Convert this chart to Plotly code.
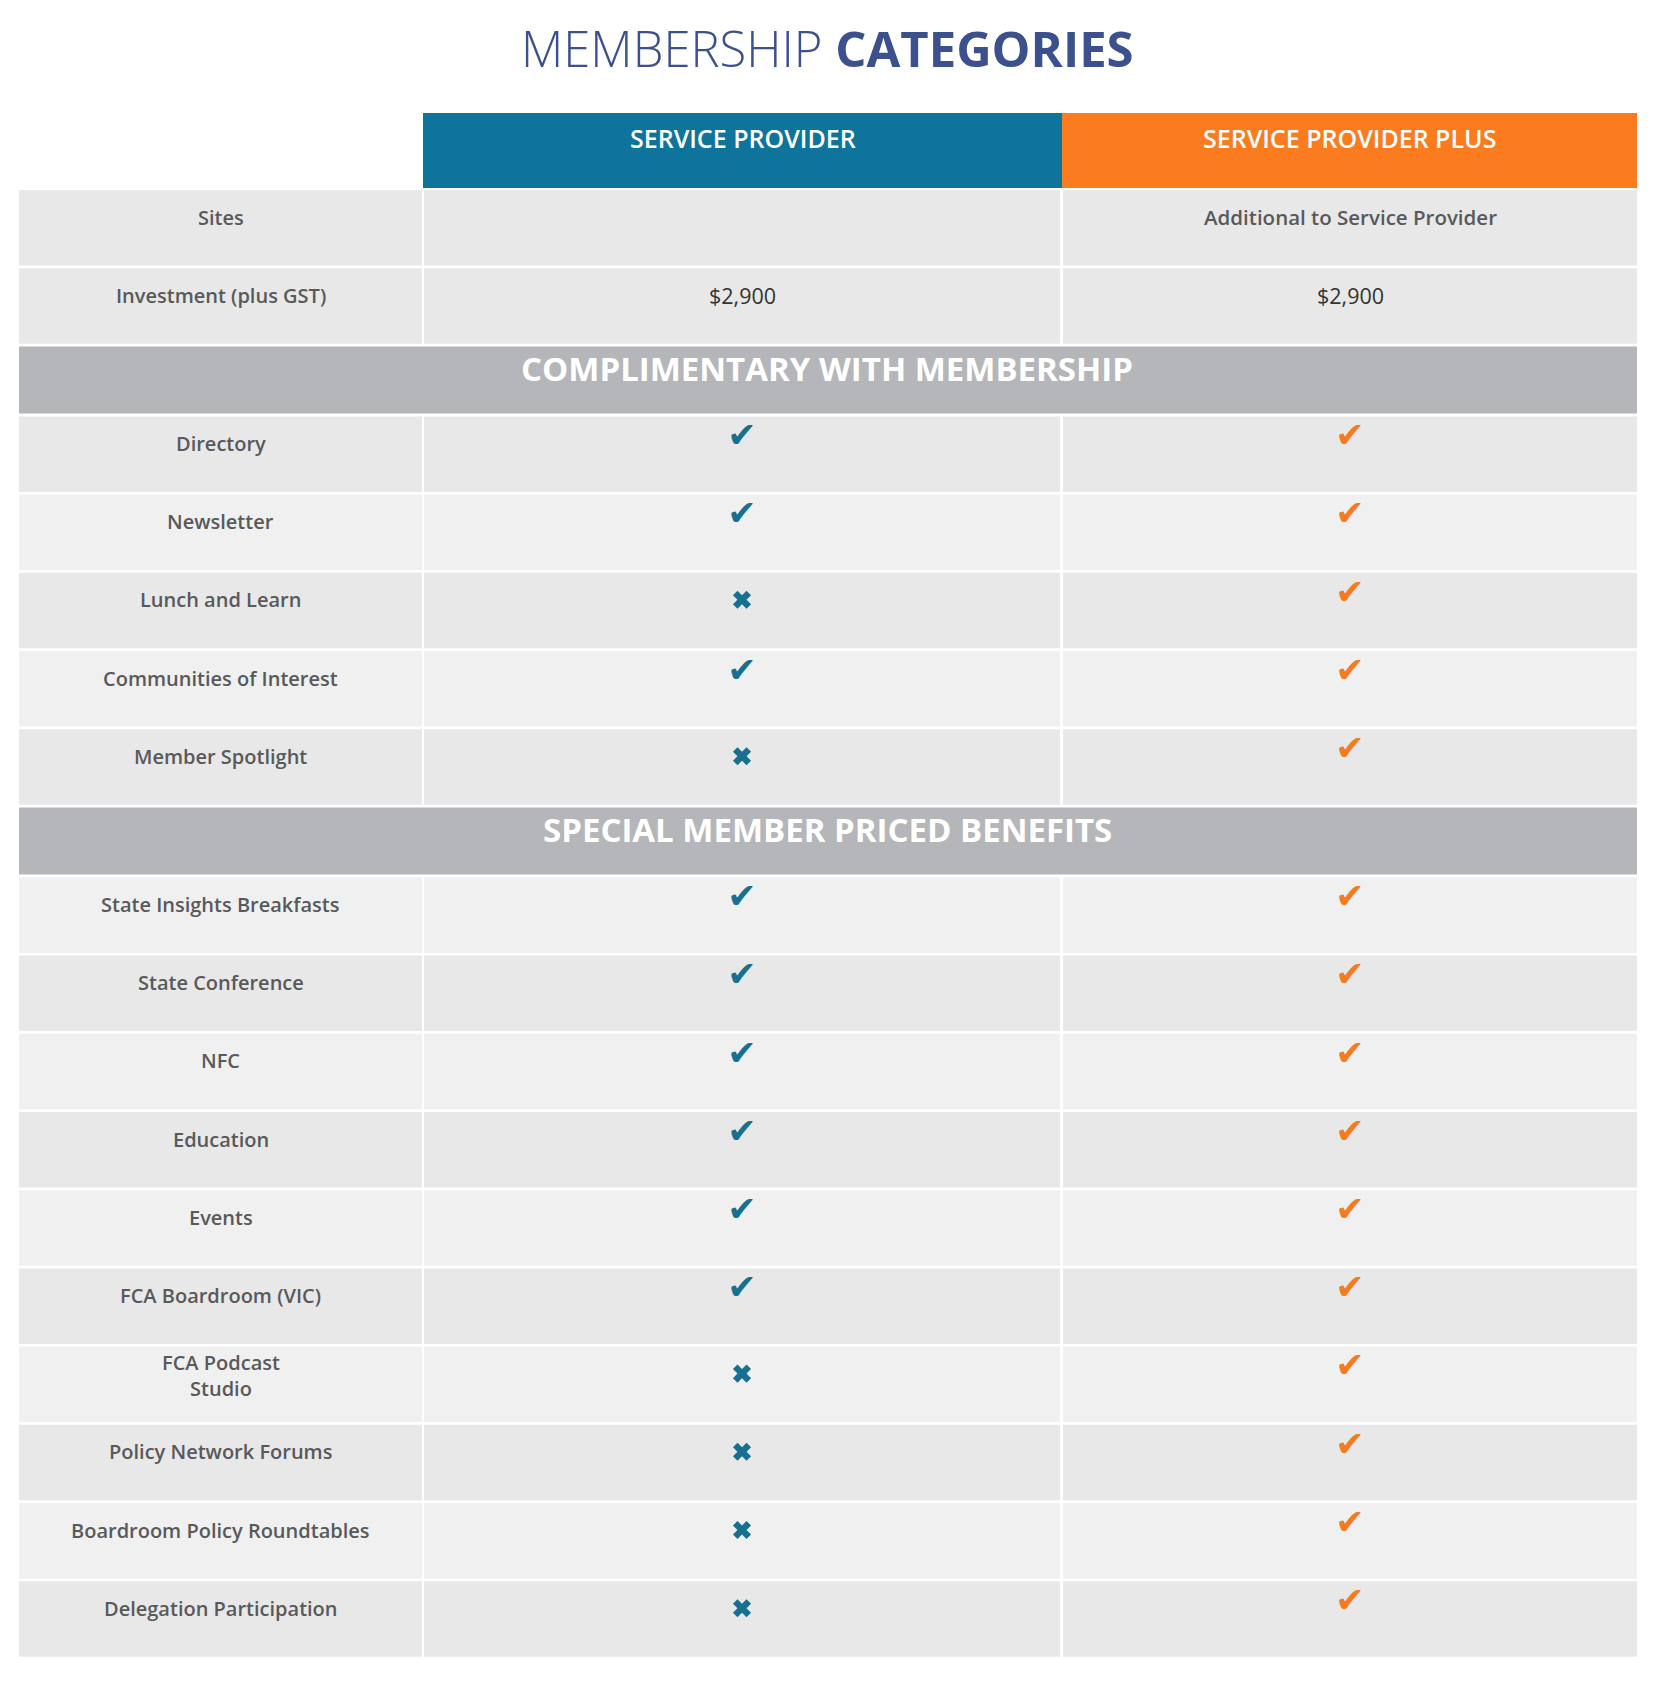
import plotly.graph_objects as go

# table content
plans = ["SERVICE PROVIDER", "SERVICE PROVIDER PLUS"]

info_rows = ["Sites", "Investment (plus GST)"]
info_sp = ["", "$2,900"]
info_spp = ["Additional to Service Provider", "$2,900"]

comp_title = "COMPLIMENTARY WITH MEMBERSHIP"
comp_rows = ["Directory", "Newsletter", "Lunch and Learn", "Communities of Interest", "Member Spotlight"]
comp_sp = [1, 1, 0, 1, 0]
comp_spp = [1, 1, 1, 1, 1]

special_title = "SPECIAL MEMBER PRICED BENEFITS"
special_rows = ["State Insights Breakfasts", "State Conference", "NFC", "Education", "Events",
                "FCA Boardroom (VIC)", "FCA Podcast<br>Studio", "Policy Network Forums",
                "Boardroom Policy Roundtables", "Delegation Participation"]
special_sp = [1, 1, 1, 1, 1, 1, 0, 0, 0, 0]
special_spp = [1, 1, 1, 1, 1, 1, 1, 1, 1, 1]

# style
W, H = 1654, 1686
OFF = 8  # page body margin around the plot div
BLUE = "#0E749B"
ORANGE = "#FB7C1E"
CHECK_BLUE = "#17708F"
CHECK_ORANGE = "#F47B20"
SECTION_GREY = "#B4B6B9"
DARK = "#E8E8E8"
LIGHT = "#F0F0F0"
LABEL = "#58595B"
FONT = "Open Sans"

COLS = [(19, 422), (424, 1060), (1063, 1637)]
HEAD_COLS = [(423, 1062), (1062, 1637)]
PITCH, CELL = 78.2, 75.5
SEC_PITCH, SEC_H = 70, 67

fig = go.Figure()
shapes = []
annos = []


def rect(x0, x1, y0, y1, color):
    shapes.append(dict(type="rect", x0=x0, x1=x1, y0=y0, y1=y1, fillcolor=color,
                       line=dict(width=0), layer="below"))


def text(x, y, s, size=20, color=LABEL, weight=600):
    annos.append(dict(x=x, y=y, text=s, showarrow=False, xanchor="center", yanchor="middle",
                      font=dict(family=FONT, size=size, color=color, weight=weight)))


# title
annos.append(dict(x=W / 2, y=48, showarrow=False, xanchor="center", yanchor="middle",
                  text="<span style='font-weight:300'>MEMBERSHIP</span> <b>CATEGORIES</b>",
                  font=dict(family=FONT, size=49, color="#3B508C")))

# plan headers
for (x0, x1), name, col in zip(HEAD_COLS, plans, [BLUE, ORANGE]):
    rect(x0, x1, 113, 188, col)
    text((x0 + x1) / 2, 138, name, size=25, color="white", weight=600)

checks_x, checks_y, checks_c = [], [], []
cross_x, cross_y = [], []

y = 190
for lab, a, b in zip(info_rows, info_sp, info_spp):
    for x0, x1 in COLS:
        rect(x0, x1, y, y + CELL, DARK)
    text(sum(COLS[0]) / 2, y + 27, lab)
    if a:
        text(sum(COLS[1]) / 2, y + 27, a, size=21.5, color="#333333", weight=400)
    if b:
        if len(b) > 10:
            text(sum(COLS[2]) / 2, y + 27, b, size=20.5)
        else:
            text(sum(COLS[2]) / 2, y + 27, b, size=21.5, color="#333333", weight=400)
    y += PITCH

k = 0
for title, rows, sp, spp in [(comp_title, comp_rows, comp_sp, comp_spp),
                             (special_title, special_rows, special_sp, special_spp)]:
    rect(COLS[0][0], COLS[2][1], y, y + SEC_H, SECTION_GREY)
    text(W / 2, y + 22, title, size=33, color="white", weight=700)
    y += SEC_PITCH
    for lab, a, b in zip(rows, sp, spp):
        shade = DARK if k % 2 == 0 else LIGHT
        for x0, x1 in COLS:
            rect(x0, x1, y, y + CELL, shade)
        text(sum(COLS[0]) / 2, y + (29 if "<br>" in lab else 27), lab)
        for val, (x0, x1), col in [(a, COLS[1], CHECK_BLUE), (b, COLS[2], CHECK_ORANGE)]:
            cx = (x0 + x1) / 2
            if val:
                checks_x.append(cx)
                checks_y.append(y + 22)
                checks_c.append(col)
            else:
                cross_x.append(cx)
                cross_y.append(y + 27)
        y += PITCH
        k += 1

fig.add_trace(go.Scatter(x=checks_x, y=checks_y, mode="text", text=["✔"] * len(checks_x),
                         textfont=dict(family="DejaVu Sans", size=35, color=checks_c),
                         hoverinfo="skip", showlegend=False))
fig.add_trace(go.Scatter(x=cross_x, y=cross_y, mode="markers",
                         marker=dict(symbol="x", size=16, color=CHECK_BLUE, line=dict(width=0)),
                         hoverinfo="skip", showlegend=False))

fig.update_layout(
    width=W, height=H,
    margin=dict(l=0, r=0, t=0, b=0),
    paper_bgcolor="white", plot_bgcolor="white",
    shapes=shapes, annotations=annos,
    xaxis=dict(range=[OFF, W + OFF], visible=False, fixedrange=True),
    yaxis=dict(range=[H + OFF, OFF], visible=False, fixedrange=True),
)

fig.write_html("out.html")
